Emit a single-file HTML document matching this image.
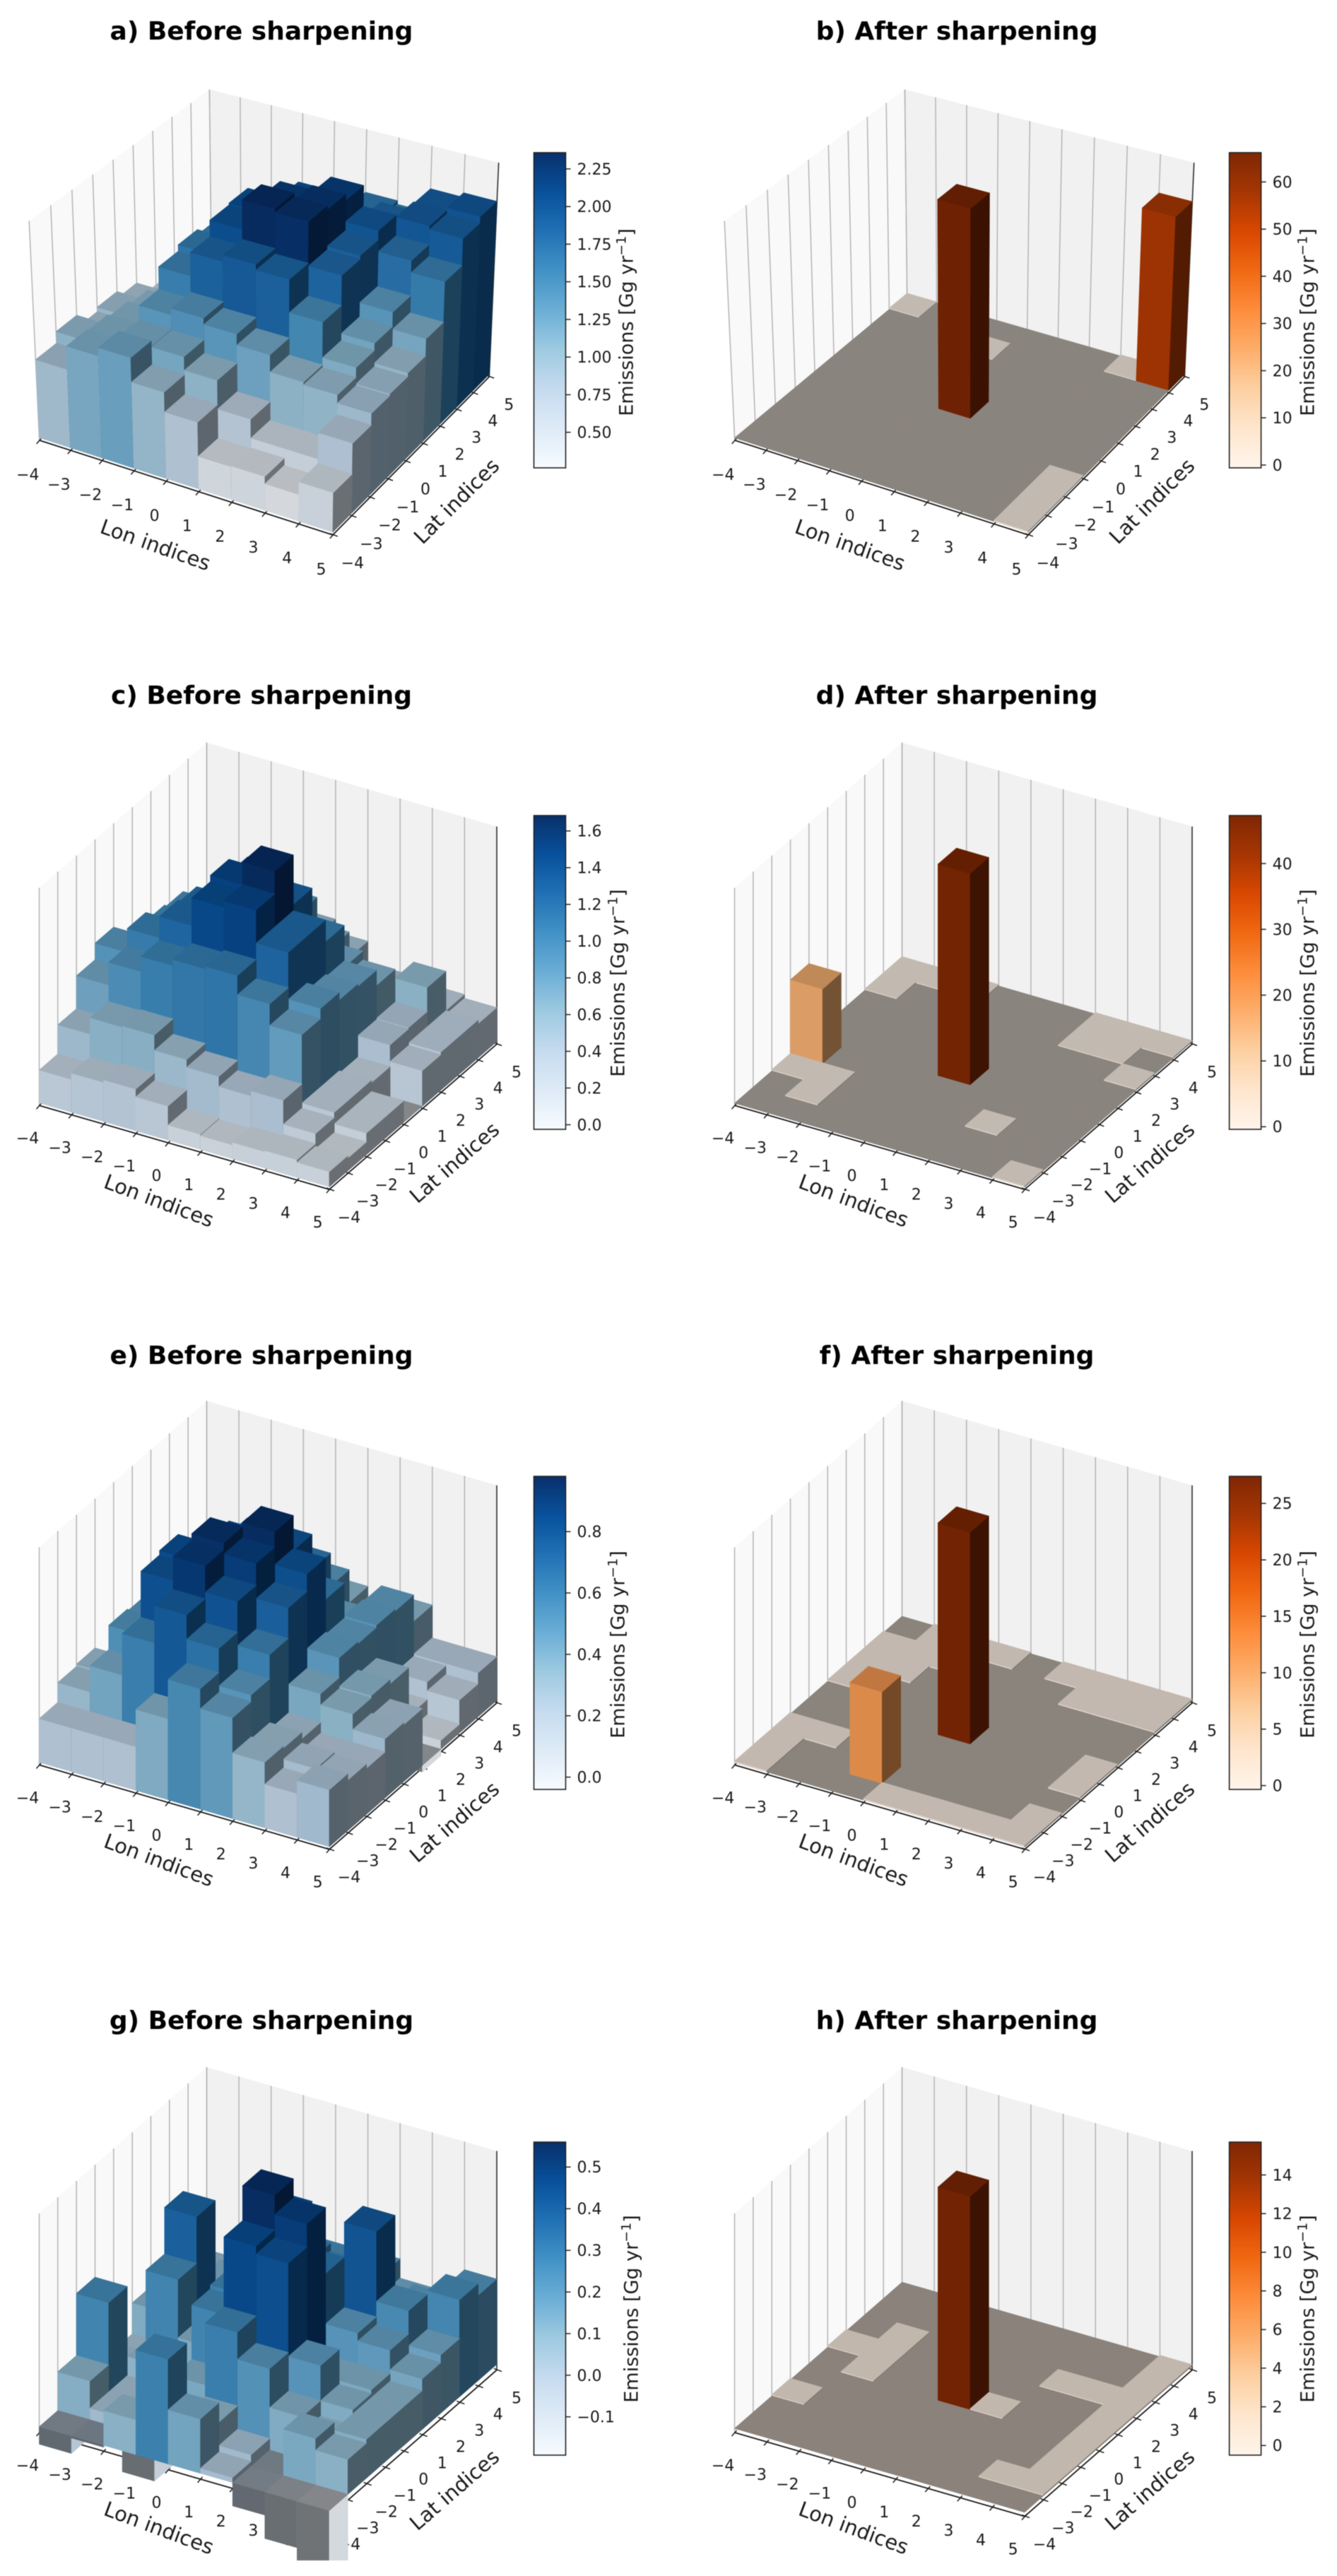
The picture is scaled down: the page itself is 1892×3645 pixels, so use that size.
<!DOCTYPE html>
<html lang="en">
<head>
<meta charset="utf-8">
<title>Emissions before and after sharpening</title>
<style>
html,body{margin:0;padding:0;background:#fff;}
svg{display:block;filter:blur(.6px);}
text{font-family:"DejaVu Sans","Liberation Sans",sans-serif;fill:#1a1a1a;}
.title{font-size:36px;font-weight:700;text-anchor:middle;fill:#000;}
.axl{font-size:29px;text-anchor:middle;}
.cbl{font-size:27px;text-anchor:middle;}
.tk{font-size:22px;}
</style>
</head>
<body>
<svg id="fig" xmlns="http://www.w3.org/2000/svg" width="1892" height="3645" viewBox="0 0 1892 3645">
<defs>
<linearGradient id="grad-blues" x1="0" y1="1" x2="0" y2="0">
<stop offset="0" stop-color="#f7fbff"/><stop offset=".125" stop-color="#deebf7"/><stop offset=".25" stop-color="#c6dbef"/><stop offset=".375" stop-color="#9ecae1"/><stop offset=".5" stop-color="#6baed6"/><stop offset=".625" stop-color="#4292c6"/><stop offset=".75" stop-color="#2171b5"/><stop offset=".875" stop-color="#08519c"/><stop offset="1" stop-color="#08306b"/>
</linearGradient>
<linearGradient id="grad-oranges" x1="0" y1="1" x2="0" y2="0">
<stop offset="0" stop-color="#fff5eb"/><stop offset=".125" stop-color="#fee6ce"/><stop offset=".25" stop-color="#fdd0a2"/><stop offset=".375" stop-color="#fdae6b"/><stop offset=".5" stop-color="#fd8d3c"/><stop offset=".625" stop-color="#f16913"/><stop offset=".75" stop-color="#d94801"/><stop offset=".875" stop-color="#a63603"/><stop offset="1" stop-color="#7f2704"/>
</linearGradient>
<clipPath id="clip-g"><rect x="0" y="2800" width="946" height="823"/></clipPath>
</defs>
<rect width="1892" height="3645" fill="#fff"/>
<g id="plots"></g>

<text class="title" x="370" y="56">a) Before sharpening</text>
<text class="title" x="1354" y="56">b) After sharpening</text>
<text class="title" x="370" y="996">c) Before sharpening</text>
<text class="title" x="1354" y="996">d) After sharpening</text>
<text class="title" x="370" y="1930">e) Before sharpening</text>
<text class="title" x="1354" y="1930">f) After sharpening</text>
<text class="title" x="370" y="2871">g) Before sharpening</text>
<text class="title" x="1354" y="2871">h) After sharpening</text>

<text class="axl" transform="translate(220,771) rotate(19.5)" dy=".35em">Lon indices</text>
<text class="axl" transform="translate(646,709) rotate(-45)" dy=".35em">Lat indices</text>
<text class="axl" transform="translate(1203,771) rotate(19.5)" dy=".35em">Lon indices</text>
<text class="axl" transform="translate(1630,709) rotate(-45)" dy=".35em">Lat indices</text>
<text class="axl" transform="translate(225,1699) rotate(20.4)" dy=".35em">Lon indices</text>
<text class="axl" transform="translate(643,1645) rotate(-41)" dy=".35em">Lat indices</text>
<text class="axl" transform="translate(1208,1699) rotate(20.4)" dy=".35em">Lon indices</text>
<text class="axl" transform="translate(1627,1645) rotate(-41)" dy=".35em">Lat indices</text>
<text class="axl" transform="translate(225,2632) rotate(20.4)" dy=".35em">Lon indices</text>
<text class="axl" transform="translate(643,2578) rotate(-41)" dy=".35em">Lat indices</text>
<text class="axl" transform="translate(1208,2632) rotate(20.4)" dy=".35em">Lon indices</text>
<text class="axl" transform="translate(1627,2578) rotate(-41)" dy=".35em">Lat indices</text>
<text class="axl" transform="translate(225,3577) rotate(20.4)" dy=".35em">Lon indices</text>
<text class="axl" transform="translate(643,3523) rotate(-41)" dy=".35em">Lat indices</text>
<text class="axl" transform="translate(1208,3577) rotate(20.4)" dy=".35em">Lon indices</text>
<text class="axl" transform="translate(1627,3523) rotate(-41)" dy=".35em">Lat indices</text>

<text class="cbl" transform="translate(886,456) rotate(-90)" dy=".35em">Emissions [Gg yr<tspan font-size="19" dy="-10">−1</tspan><tspan dy="10">]</tspan></text>
<text class="cbl" transform="translate(1850,456) rotate(-90)" dy=".35em">Emissions [Gg yr<tspan font-size="19" dy="-10">−1</tspan><tspan dy="10">]</tspan></text>
<text class="cbl" transform="translate(874,1391) rotate(-90)" dy=".35em">Emissions [Gg yr<tspan font-size="19" dy="-10">−1</tspan><tspan dy="10">]</tspan></text>
<text class="cbl" transform="translate(1850,1391) rotate(-90)" dy=".35em">Emissions [Gg yr<tspan font-size="19" dy="-10">−1</tspan><tspan dy="10">]</tspan></text>
<text class="cbl" transform="translate(874,2327) rotate(-90)" dy=".35em">Emissions [Gg yr<tspan font-size="19" dy="-10">−1</tspan><tspan dy="10">]</tspan></text>
<text class="cbl" transform="translate(1850,2327) rotate(-90)" dy=".35em">Emissions [Gg yr<tspan font-size="19" dy="-10">−1</tspan><tspan dy="10">]</tspan></text>
<text class="cbl" transform="translate(893,3267) rotate(-90)" dy=".35em">Emissions [Gg yr<tspan font-size="19" dy="-10">−1</tspan><tspan dy="10">]</tspan></text>
<text class="cbl" transform="translate(1850,3267) rotate(-90)" dy=".35em">Emissions [Gg yr<tspan font-size="19" dy="-10">−1</tspan><tspan dy="10">]</tspan></text>
</svg>
<script>
const lonTicks = ['−4','−3','−2','−1','0','1','2','3','4','5'];
const latTicks = ['−4','−3','−2','−1','0','1','2','3','4','5'];

// Emissions per grid cell. Rows run from lat index -4 (front) to 4 (back), columns from lon index -4 to 4.
const valuesA = [
[.89,1.15,1.24,.97,.75,.37,.38,.30,.44],
[1.02,1.13,1.18,1.17,1.02,.70,.49,.49,.78],
[.88,1.10,1.34,1.41,1.34,1.22,1.03,1.00,.91],
[.93,1.05,1.59,1.85,1.92,1.86,1.50,1.11,.93],
[.85,.98,1.66,2.03,2.35,2.31,1.83,1.19,.97],
[.65,.97,1.60,2.05,2.22,2.27,1.87,1.35,1.16],
[.65,1.06,1.45,1.85,2.05,2.20,1.97,1.74,1.61],
[.65,.88,1.18,1.75,1.80,1.73,1.85,1.95,1.91],
[.58,.80,1.08,1.50,1.62,1.70,1.66,1.93,1.98]];
const valuesB = [
[0,0,0,0,0,0,0,0,.4],
[0,0,0,0,0,0,0,0,.4],
[0,0,0,0,0,0,0,0,.4],
[0,0,0,0,0,0,0,0,0],
[0,0,0,0,66,0,0,0,0],
[0,0,0,0,0,0,0,0,0],
[0,0,0,0,0,0,0,0,0],
[0,0,0,.4,0,0,0,0,0],
[.4,0,0,0,0,0,0,.4,55.5]];
const valuesC = [
[.26,.31,.33,.27,.12,.11,.13,.14,.12],
[.49,.62,.63,.51,.45,.37,.41,.22,.10],
[.75,.93,1.05,1.10,1.12,.97,.80,.26,.17],
[.88,1.07,1.24,1.46,1.51,1.25,.88,.26,.17],
[.70,1.00,1.22,1.51,1.69,1.25,.82,.24,0],
[.58,.98,1.15,1.40,1.30,1.08,.80,.41,.28],
[.52,.73,.90,1.10,.90,.75,.68,.42,.30],
[.46,.61,.70,.90,.70,.46,.50,.61,.30],
[.40,.55,.55,.60,.50,.25,.25,.30,.27]];
const valuesD = [
[0,0,0,0,0,0,0,0,.3],
[0,.3,0,0,0,0,0,0,0],
[.3,.3,0,0,0,0,.3,0,0],
[16.5,0,0,0,0,0,0,0,0],
[0,0,0,0,46.5,0,0,0,0],
[0,0,0,0,0,0,0,0,0],
[0,0,0,0,0,0,0,0,.3],
[.3,0,0,0,0,0,.3,.3,0],
[.3,.3,.3,0,0,0,.3,.3,.3]];
const valuesE = [
[.20,.20,.20,.37,.55,.46,.30,.20,.26],
[.29,.41,.60,.77,.66,.49,.29,.24,.23],
[.30,.52,.81,.92,.80,.60,.26,.21,.21],
[.21,.51,.83,.95,.90,.74,.39,.34,.27],
[.26,.49,.76,.86,.97,.82,.48,.35,.26],
[.23,.46,.70,.80,.81,.63,.47,.33,-.03],
[.21,.40,.55,.65,.65,.45,.48,.11,.04],
[.19,.35,.45,.50,.50,.35,.47,.19,.15],
[.18,.30,.35,.35,.35,.30,.35,.20,.20]];
const valuesF = [
[.2,0,0,0,.2,.2,.2,.2,.2],
[.2,0,0,11.7,0,0,0,0,.2],
[.2,.2,0,0,0,0,0,0,0],
[0,0,0,0,0,0,0,0,.2],
[0,0,0,0,27,0,0,0,.2],
[.2,0,0,0,0,0,0,0,0],
[.2,.2,0,0,0,0,0,0,0],
[.2,.2,.2,0,0,0,.2,.2,.2],
[0,.2,.2,.2,0,.2,.2,.2,.2]];
const valuesG = [
[-.045,-.005,.09,.27,.14,.013,-.06,-.12,-.18],
[.10,.03,-.11,.04,.09,.03,-.03,.12,.09],
[.26,.03,.05,.12,.28,.21,.11,.07,.10],
[.05,.08,.05,.26,.46,.44,.20,.11,.10],
[.03,.26,.11,.27,.55,.50,.12,.12,.10],
[.11,.38,.15,.30,.45,.33,.20,.18,.13],
[.10,.12,.15,.25,.30,.28,.42,.24,.15],
[.10,.12,.15,.25,.25,.25,.15,.20,.25],
[.08,.10,.12,.15,.15,.20,.15,.15,.22]];
const valuesH = [
[0,0,0,0,0,0,0,0,0],
[0,0,0,0,0,0,0,.1,.1],
[.1,0,0,0,0,0,0,0,.1],
[0,0,0,0,0,0,0,0,.1],
[0,.1,0,0,15.5,.1,0,0,.1],
[.1,.1,0,0,0,0,0,0,.1],
[0,.1,0,0,0,0,.1,.1,.1],
[0,0,0,0,0,0,0,0,.1],
[0,0,0,0,0,0,0,0,.1]];

const cbarTicksA = [.5,.75,1,1.25,1.5,1.75,2,2.25];
const cbarTicksB = [0,10,20,30,40,50,60];
const cbarTicksC = [0,.2,.4,.6,.8,1,1.2,1.4,1.6];
const cbarTicksD = [0,10,20,30,40];
const cbarTicksE = [0,.2,.4,.6,.8];
const cbarTicksF = [0,5,10,15,20,25];
const cbarTicksG = [-.1,0,.1,.2,.3,.4,.5];
const cbarTicksH = [0,2,4,6,8,10,12,14];

const blues = ['#f7fbff','#deebf7','#c6dbef','#9ecae1','#6baed6','#4292c6','#2171b5','#08519c','#08306b'];
const oranges = ['#fff5eb','#fee6ce','#fdd0a2','#fdae6b','#fd8d3c','#f16913','#d94801','#a63603','#7f2704'];

const NS = 'http://www.w3.org/2000/svg';
const RIGHT = 984;

function rgbOf(hex){return [1,3,5].map(k=>parseInt(hex.substr(k,2),16));}
function cmapColor(map,t){
  t = Math.max(0,Math.min(1,t))*(map.length-1);
  const k = Math.min(map.length-2,Math.floor(t)), f = t-k;
  const a = rgbOf(map[k]), b = rgbOf(map[k+1]);
  return a.map((c,n)=>c+(b[n]-c)*f);
}
function shade(rgb,s){return 'rgb('+rgb.map(c=>Math.round(c*s)).join(',')+')';}

// Perspective camera: elev 30, azim -60, box aspect 4:4:3, distance 10.
function perspective(ox,oy,sx,sy){
  const a=.5714,c=.4286;
  return function(u,v,w){
    const x=(u-.5)*2*a,y=(v-.5)*2*a,z=(w-.5)*2*c;
    const px=.866*x+.5*y, py=-.25*x+.433*y+.866*z, d=.433*x-.75*y+.5*z, q=10-d;
    return [ox+sx*px/q, oy-sy*py/q];
  };
}
function orthographic(L,F,R,zh){
  return function(u,v,w){
    return [L[0]+u*(F[0]-L[0])+v*(R[0]-F[0]), L[1]+u*(F[1]-L[1])+v*(R[1]-F[1])-w*zh];
  };
}

const panels = [
 {id:'a',values:valuesA,map:blues,grad:'grad-blues',vmin:.264,vmax:2.358,zlo:-.03,zhi:2.406,ticks:cbarTicksA,dec:2,proj:perspective(379.6,427.2,4164,4130),cb:[755.5,216,662],lonOff:[-16.4,48],latOff:[28,39]},
 {id:'b',values:valuesB,map:oranges,grad:'grad-oranges',vmin:-.6,vmax:66.2,zlo:-.8,zhi:67.5,ticks:cbarTicksB,dec:0,proj:perspective(379.6+RIGHT,427.2,4164,4130),cb:[1739.6,216,662],lonOff:[-16.4,48],latOff:[28,39]},
 {id:'c',values:valuesC,map:blues,grad:'grad-blues',vmin:-.025,vmax:1.684,zlo:-.02,zhi:1.70,ticks:cbarTicksC,dec:1,proj:orthographic([55.5,1564.2],[466,1683],[703,1477.5],308),cb:[755.5,1154,1598],lonOff:[-16.4,46],latOff:[28,39]},
 {id:'d',values:valuesD,map:oranges,grad:'grad-oranges',vmin:-.4,vmax:47.3,zlo:-.5,zhi:47.3,ticks:cbarTicksD,dec:0,proj:orthographic([55.5+RIGHT,1564.2],[466+RIGHT,1683],[703+RIGHT,1477.5],308),cb:[1739.6,1154,1598],lonOff:[-16.4,46],latOff:[28,39]},
 {id:'e',values:valuesE,map:blues,grad:'grad-blues',vmin:-.04,vmax:.98,zlo:-.012,zhi:.982,ticks:cbarTicksE,dec:1,proj:orthographic([55.5,2497.4],[466,2616.8],[703,2409.7],308),cb:[755.5,2089,2532],lonOff:[-16.4,46],latOff:[28,39]},
 {id:'f',values:valuesF,map:oranges,grad:'grad-oranges',vmin:-.34,vmax:27.4,zlo:-.3,zhi:27.4,ticks:cbarTicksF,dec:0,proj:orthographic([55.5+RIGHT,2497.4],[466+RIGHT,2616.8],[703+RIGHT,2409.7],308),cb:[1739.6,2089,2532],lonOff:[-16.4,46],latOff:[28,39]},
 {id:'g',values:valuesG,map:blues,grad:'grad-blues',vmin:-.192,vmax:.56,zlo:-.015,zhi:.55,ticks:cbarTicksG,dec:1,proj:orthographic([55.5,3442],[466,3560.6],[703,3353.6],310),cb:[755.5,3031,3474],lonOff:[-16.4,46],latOff:[28,39],clip:'url(#clip-g)'},
 {id:'h',values:valuesH,map:oranges,grad:'grad-oranges',vmin:-.5,vmax:15.7,zlo:-.3,zhi:15.6,ticks:cbarTicksH,dec:0,proj:orthographic([55.5+RIGHT,3442],[466+RIGHT,3560.6],[703+RIGHT,3353.6],310),cb:[1739.6,3031,3474],lonOff:[-16.4,46],latOff:[28,39]}
];

const root = document.getElementById('plots');

function node(tag,parent){
  const e = document.createElementNS(NS,tag);
  parent.appendChild(e);
  return e;
}
function polygon(parent,pts,fill,stroke){
  const e = node('polygon',parent);
  e.setAttribute('points',pts.map(p=>p[0].toFixed(1)+','+p[1].toFixed(1)).join(' '));
  e.setAttribute('fill',fill);
  if(stroke){e.setAttribute('stroke',stroke);e.setAttribute('stroke-width','.6');}
  return e;
}
function segment(parent,a,b,color,width){
  const e = node('line',parent);
  e.setAttribute('x1',a[0].toFixed(1));
  e.setAttribute('y1',a[1].toFixed(1));
  e.setAttribute('x2',b[0].toFixed(1));
  e.setAttribute('y2',b[1].toFixed(1));
  e.setAttribute('stroke',color);
  e.setAttribute('stroke-width',width);
  return e;
}
function label(parent,x,y,str,anchor){
  const e = node('text',parent);
  e.setAttribute('class','tk');
  e.setAttribute('x',x.toFixed(1));
  e.setAttribute('y',y.toFixed(1));
  e.setAttribute('dy','.36em');
  e.setAttribute('text-anchor',anchor);
  e.textContent = str;
  return e;
}

function drawPanes(g,P){
  const left = polygon(g,[P(0,0,0),P(0,1,0),P(0,1,1),P(0,0,1)],'#f9f9f9');
  
  
  const back = polygon(g,[P(0,1,0),P(1,1,0),P(1,1,1),P(0,1,1)],'#f1f1f1');
  
  
  for(let k=0;k<=9;k++){
    const a = segment(g,P(0,k/9,0),P(0,k/9,1),'#b4b4b4',1.5);
    
    
    const b = segment(g,P(k/9,1,0),P(k/9,1,1),'#b4b4b4',1.5);
    
    
  }
  const z = segment(g,P(1,1,0),P(1,1,1),'#333',1.6);
  
  
}

function drawAxes(g,P,cfg){
  const lon = segment(g,P(0,0,0),P(1,0,0),'#1a1a1a',1.8);
  
  
  const lat = segment(g,P(1,0,0),P(1,1,0),'#1a1a1a',1.8);
  
  
  lonTicks.forEach((t,k)=>{
    const p = P(k/(lonTicks.length-1),0,0);
    const m = segment(g,[p[0]-4,p[1]+5],[p[0]+3,p[1]-3],'#1a1a1a',1.5);
    
    
    const s = label(g,p[0]+cfg.lonOff[0],p[1]+cfg.lonOff[1],t,'middle');
    
    
  });
  latTicks.forEach((t,k)=>{
    const p = P(1,k/(latTicks.length-1),0);
    const m = segment(g,[p[0]-4,p[1]-2],[p[0]+7,p[1]+2],'#1a1a1a',1.5);
    
    
    const s = label(g,p[0]+cfg.latOff[0],p[1]+cfg.latOff[1],t,'middle');
    
    
  });
}

function drawBars(g,P,cfg){
  const rows = cfg.values, n = rows.length, m = rows[0].length;
  const zf = v => (v-cfg.zlo)/(cfg.zhi-cfg.zlo);
  const w0 = zf(0);
  for(let j=n-1;j>=0;j--){
    for(let i=0;i<m;i++){
      const v = rows[j][i], w = zf(v);
      const u0=i/m,u1=(i+1)/m,v0=j/n,v1=(j+1)/n;
      const rgb = cmapColor(cfg.map,(v-cfg.vmin)/(cfg.vmax-cfg.vmin));
      const pos = v>0;
      const hi = pos?w:w0, lo = pos?w0:w;
      const cF = shade(rgb,pos?.87:.46), cS = shade(rgb,pos?.46:.87), cT = shade(rgb,pos?.76:.54);
      const bar = node('g',g);
      
      
      const front = polygon(bar,[P(u0,v0,lo),P(u1,v0,lo),P(u1,v0,hi),P(u0,v0,hi)],cF,cF);
      
      
      const side = polygon(bar,[P(u1,v0,lo),P(u1,v1,lo),P(u1,v1,hi),P(u1,v0,hi)],cS,cS);
      
      
      const top = polygon(bar,[P(u0,v0,hi),P(u1,v0,hi),P(u1,v1,hi),P(u0,v1,hi)],cT,cT);
      
      
    }
  }
}

function drawColorbar(g,cfg){
  const x=cfg.cb[0],y0=cfg.cb[1],y1=cfg.cb[2],w=45;
  const r = node('rect',g);
  r.setAttribute('x',x);
  r.setAttribute('y',y0);
  r.setAttribute('width',w);
  r.setAttribute('height',y1-y0);
  r.setAttribute('fill','url(#'+cfg.grad+')');
  r.setAttribute('stroke','#222');
  r.setAttribute('stroke-width','1.6');
  
  
  cfg.ticks.forEach(t=>{
    const y = y1-(t-cfg.vmin)/(cfg.vmax-cfg.vmin)*(y1-y0);
    const m = segment(g,[x+w,y],[x+w+7,y],'#222',1.5);
    
    
    const s = label(g,x+w+16,y,t.toFixed(cfg.dec).replace('-','−'),'start');
    
    
  });
}

panels.forEach(cfg=>{
  const g = node('g',root);
  
  
  drawPanes(g,cfg.proj);
  drawAxes(g,cfg.proj,cfg);
  const bars = node('g',g);
  
  
  if(cfg.clip) bars.setAttribute('clip-path',cfg.clip);
  drawBars(bars,cfg.proj,cfg);
  drawColorbar(g,cfg);
});
</script>
</body>
</html>
